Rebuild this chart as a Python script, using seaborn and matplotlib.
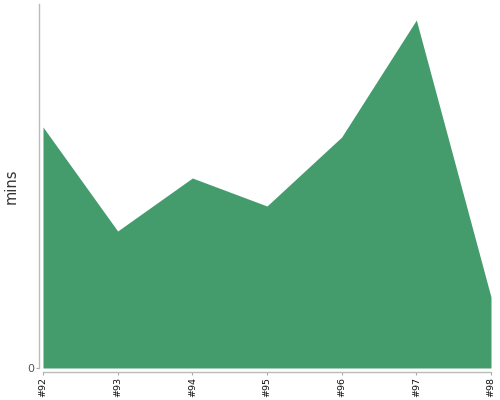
import matplotlib
matplotlib.use("Agg")
import matplotlib.pyplot as plt
import seaborn as sns
import pandas as pd
import numpy as np

categories = ["#92", "#93", "#94", "#95", "#96", "#97", "#98"]
mins = [24.1, 13.7, 19.0, 16.2, 23.1, 34.8, 7.1]

df = pd.DataFrame({"build": categories, "mins": mins})
df["pos"] = np.arange(len(categories))

sns.set_theme(style="white")
plt.rcParams['font.family'] = ['DejaVu Sans']

fig = plt.figure(figsize=(5, 4), dpi=100)
ax = fig.add_axes([0.086, 0.08, 0.896, 0.91])
color = "#449c6c"
sns.lineplot(data=df, x="pos", y="mins", ax=ax, color=color, linewidth=0)
ax.fill_between(df["pos"], 0, df["mins"], color=color, linewidth=0)

ax.set_xlim(0, len(categories) - 1)
ax.set_ylim(0, 36.4)
for s in ["top", "right"]:
    ax.spines[s].set_visible(False)
for s in ["left", "bottom"]:
    ax.spines[s].set_color("#bbbbbb")
    ax.spines[s].set_linewidth(1)
    ax.spines[s].set_position(("outward", 3))
ax.tick_params(axis="both", length=2, width=0.8, color="#aaaaaa", direction="out", pad=1.5,
               bottom=True, left=True)

ax.set_xticks(df["pos"])
ax.set_xticklabels(categories)
ax.set_yticks([0])
ax.set_yticklabels(["0"])
for lab in ax.get_xticklabels():
    lab.set_rotation(90)
    lab.set_fontsize(6.8)
    lab.set_color("#111111")
for lab in ax.get_yticklabels():
    lab.set_fontsize(8)
    lab.set_color("#555555")
ax.set_xlabel("")
ax.set_ylabel("mins", fontsize=10.5, color="#333333")
ax.yaxis.set_label_coords(-0.054, 0.5)

fig.savefig("out.png", dpi=100)
